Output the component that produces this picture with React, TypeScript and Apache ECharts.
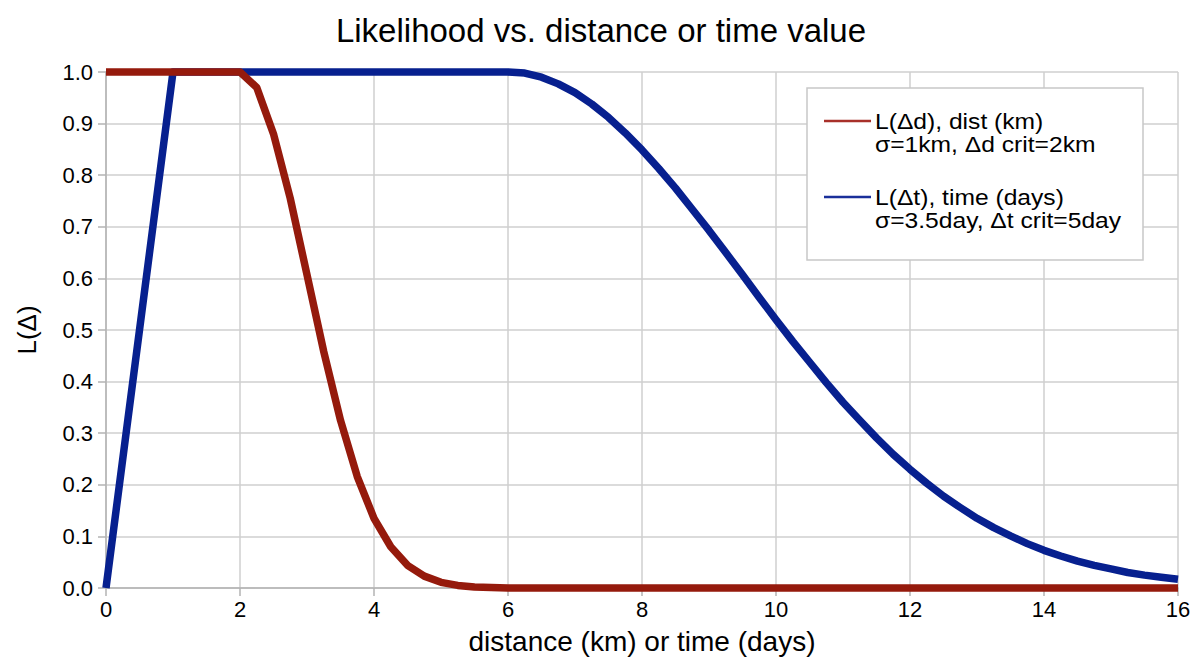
import React, { useEffect, useRef } from "react";
import * as echarts from "echarts";

const TITLE = "Likelihood vs. distance or time value";
const X_NAME = "distance (km) or time (days)";
const Y_NAME = "L(Δ)";

const RED_NAME_1 = "L(Δd), dist (km)";
const RED_NAME_2 = "σ=1km, Δd crit=2km";
const BLUE_NAME_1 = "L(Δt), time (days)";
const BLUE_NAME_2 = "σ=3.5day, Δt crit=5day";

const redX = [0, 2, 2.25, 2.5, 2.75, 3, 3.25, 3.5, 3.75, 4, 4.25, 4.5, 4.75, 5, 5.25, 5.5, 5.75, 6, 16];
const redY = [1, 1, 0.97, 0.88, 0.755, 0.607, 0.458, 0.325, 0.216, 0.135, 0.08, 0.044, 0.023, 0.011, 0.005, 0.002, 0.001, 0, 0];

const blueX = [
  0, 1, 6, 6.25, 6.5, 6.75, 7, 7.25, 7.5, 7.75, 8, 8.25, 8.5, 8.75, 9, 9.25, 9.5, 9.75, 10,
  10.25, 10.5, 10.75, 11, 11.25, 11.5, 11.75, 12, 12.25, 12.5, 12.75, 13, 13.25, 13.5, 13.75,
  14, 14.25, 14.5, 14.75, 15, 15.25, 15.5, 15.75, 16,
];
const blueY = [
  0, 1, 1, 0.998, 0.99, 0.977, 0.96, 0.938, 0.912, 0.882, 0.849, 0.813, 0.775, 0.734, 0.693,
  0.65, 0.607, 0.563, 0.52, 0.478, 0.438, 0.398, 0.36, 0.325, 0.291, 0.259, 0.23, 0.203, 0.178,
  0.156, 0.135, 0.117, 0.101, 0.086, 0.073, 0.062, 0.052, 0.044, 0.037, 0.03, 0.025, 0.021, 0.017,
];

const RED = "#951a0c";
const BLUE = "#07208f";
const FONT = "'Liberation Sans', Arial, Helvetica, sans-serif";

export default function App() {
  const ref = useRef<HTMLDivElement>(null);
  useEffect(() => {
    if (!ref.current) return;
    const chart = echarts.init(ref.current, undefined, { renderer: "svg" });
    const pairs = (xs: number[], ys: number[]) => xs.map((x, i) => [x, ys[i]]);
    const legendText = (x: number, y: number, l1: string, l2: string) => ({
      type: "text",
      z: 102,
      x,
      y,
      scaleX: 1.12,
      style: {
        text: `${l1}\n${l2}`,
        font: `22px ${FONT}`,
        lineHeight: 23,
        fill: "#000",
        verticalAlign: "top",
        align: "left",
      },
    });
    chart.setOption({
      animation: false,
      backgroundColor: "#fff",
      textStyle: { fontFamily: FONT },
      title: {
        text: TITLE,
        left: "center",
        top: 9,
        textStyle: { fontSize: 33, fontWeight: "normal", color: "#000", fontFamily: FONT },
      },
      grid: { left: 106, right: 24, top: 72, bottom: 79, containLabel: false },
      xAxis: {
        type: "value",
        min: 0,
        max: 16,
        interval: 2,
        name: X_NAME,
        nameLocation: "middle",
        nameGap: 39,
        nameTextStyle: { fontSize: 28, color: "#000", fontFamily: FONT },
        axisLine: { show: true, lineStyle: { color: "#b3b3b3", width: 1.5 } },
        axisTick: { show: true, length: 8, lineStyle: { color: "#b3b3b3", width: 1.5 } },
        axisLabel: { fontSize: 22, color: "#000", margin: 10, fontFamily: FONT },
        splitLine: { show: true, lineStyle: { color: "#cfcfcf", width: 1.5 } },
      },
      yAxis: {
        type: "value",
        min: 0,
        max: 1,
        interval: 0.1,
        name: Y_NAME,
        nameLocation: "middle",
        nameGap: 66,
        nameRotate: 90,
        nameTextStyle: { fontSize: 26, color: "#000", fontFamily: FONT },
        axisLine: { show: true, lineStyle: { color: "#b3b3b3", width: 1.5 } },
        axisTick: { show: true, length: 8, lineStyle: { color: "#b3b3b3", width: 1.5 } },
        axisLabel: {
          fontSize: 22,
          color: "#000",
          margin: 13,
          fontFamily: FONT,
          formatter: (v: number) => v.toFixed(1),
        },
        splitLine: { show: true, lineStyle: { color: "#cfcfcf", width: 1.5 } },
      },
      series: [
        {
          name: BLUE_NAME_1,
          type: "line",
          data: pairs(blueX, blueY),
          showSymbol: false,
          clip: false,
          lineStyle: { color: BLUE, width: 7.5, join: "round" },
          itemStyle: { color: BLUE },
          z: 2,
        },
        {
          name: RED_NAME_1,
          type: "line",
          data: pairs(redX, redY),
          showSymbol: false,
          clip: false,
          lineStyle: { color: RED, width: 7.5, join: "round" },
          itemStyle: { color: RED },
          z: 3,
        },
      ],
      graphic: [
        {
          type: "rect",
          z: 100,
          shape: { x: 807, y: 88, width: 336, height: 172 },
          style: { fill: "#fff", stroke: "#c8c8c8", lineWidth: 1.5 },
        },
        {
          type: "line",
          z: 101,
          shape: { x1: 824, y1: 121, x2: 871, y2: 121 },
          style: { stroke: "#a8302a", lineWidth: 2.5 },
        },
        legendText(875, 110, RED_NAME_1, RED_NAME_2),
        {
          type: "line",
          z: 101,
          shape: { x1: 824, y1: 197, x2: 871, y2: 197 },
          style: { stroke: "#1a2f9a", lineWidth: 2.5 },
        },
        legendText(875, 186, BLUE_NAME_1, BLUE_NAME_2),
      ],
    });
    return () => chart.dispose();
  }, []);
  return (
    <div
      ref={ref}
      style={{ position: "absolute", left: 0, top: 0, width: 1202, height: 667, background: "#fff" }}
    />
  );
}
